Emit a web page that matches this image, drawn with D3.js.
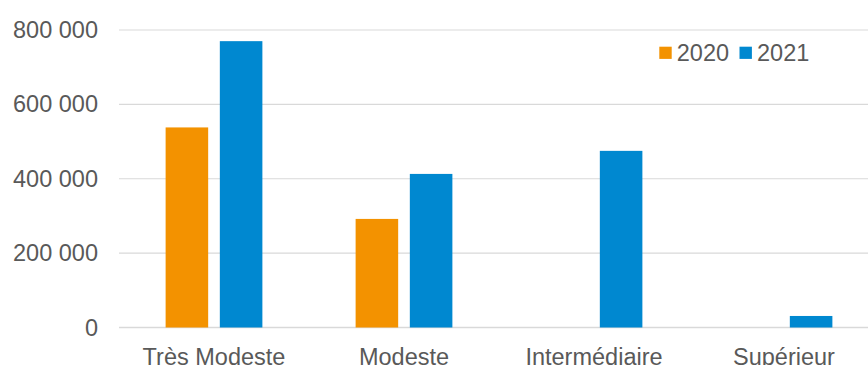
<!DOCTYPE html>
<html>
<head>
<meta charset="utf-8">
<script src="https://cdn.jsdelivr.net/npm/d3@7"></script>
<style>
  html, body { margin: 0; padding: 0; background: #fff; }
  svg { display: block; }
</style>
</head>
<body>
<svg id="chart" width="868" height="365"></svg>
<script>
const categories = ["Très Modeste", "Modeste", "Intermédiaire", "Supérieur"];
const seriesNames = ["2020", "2021"];
const values2020 = [538000, 292000, null, null];
const values2021 = [770000, 413000, 475000, 31000];
const yTicks = [0, 200000, 400000, 600000, 800000];
const colors = ["#F39200", "#0088D0"];

(function () {
const svg = d3.select("#chart");
const W = 868;
const mLeft = 119, mRight = 879, mTop = 30, mBottom = 327.5;
const fontFamily = "'Liberation Sans', Arial, sans-serif";
const textColor = "#595959";

const x = d3.scaleBand().domain(categories).range([mLeft, mRight]).paddingInner(0).paddingOuter(0);
const xs = d3.scaleBand().domain(seriesNames).range([0, x.bandwidth()]).paddingInner(0.215).paddingOuter(0.86);
const y = d3.scaleLinear().domain([0, 800000]).range([mBottom, mTop]);

// gridlines
svg.append("g").selectAll("line").data(yTicks).join("line")
  .attr("x1", mLeft).attr("x2", W)
  .attr("y1", d => y(d)).attr("y2", d => y(d))
  .attr("stroke", "#d9d9d9").attr("stroke-width", d => d === 0 ? 1.5 : 1.2);

// y axis labels
const yAxis = d3.axisLeft(y).tickValues(yTicks).tickSize(0).tickPadding(0)
  .tickFormat(d => d3.format(",")(d).replace(/,/g, " "));
const ya = svg.append("g").attr("transform", `translate(98,0)`).call(yAxis);
ya.select(".domain").remove();
ya.selectAll("text").attr("font-family", fontFamily).attr("font-size", "23.5px").attr("fill", textColor);

// bars
const data = [];
categories.forEach((c, i) => {
  [values2020[i], values2021[i]].forEach((v, j) => {
    if (v != null) data.push({c, s: seriesNames[j], v, j});
  });
});
svg.append("g").selectAll("rect").data(data).join("rect")
  .attr("x", d => x(d.c) + xs(d.s))
  .attr("width", xs.bandwidth())
  .attr("y", d => y(d.v))
  .attr("height", d => y(0) - y(d.v))
  .attr("fill", d => colors[d.j]);

// x axis labels
const xAxis = d3.axisBottom(x).tickSize(0).tickPadding(0);
const xa = svg.append("g").attr("transform", `translate(0,${mBottom})`).call(xAxis);
xa.select(".domain").remove();
xa.selectAll("text").attr("font-family", fontFamily).attr("font-size", "23.5px").attr("fill", textColor)
  .attr("dy", null).attr("y", 37);

// legend
const legend = svg.append("g");
const legendItems = [{name: seriesNames[0], x: 659.3}, {name: seriesNames[1], x: 739.5}];
legendItems.forEach((it, i) => {
  legend.append("rect").attr("x", it.x).attr("y", 46.7).attr("width", 12.4).attr("height", 12.2).attr("fill", colors[i]);
  legend.append("text").attr("x", it.x + 17.5).attr("y", 61).attr("font-family", fontFamily)
    .attr("font-size", "23.5px").attr("fill", textColor).text(it.name);
});
})();
</script>
</body>
</html>
